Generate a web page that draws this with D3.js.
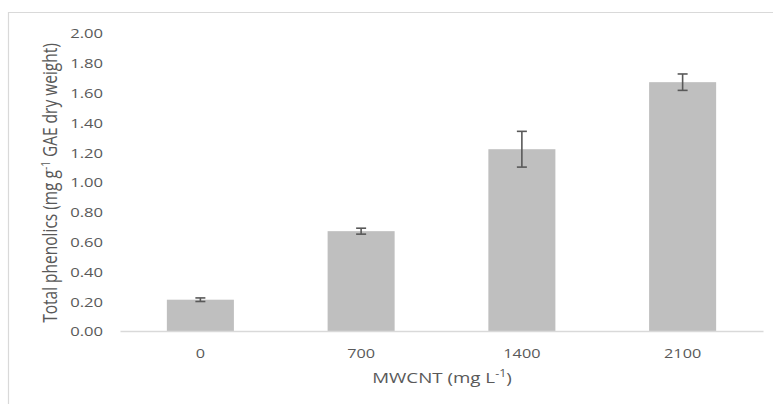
<!DOCTYPE html>
<html><head><meta charset="utf-8">
<script src="https://cdn.jsdelivr.net/npm/d3@7"></script>
<style>body{margin:0;background:#fff;} svg{display:block;}</style>
</head><body>
<script>
const categories = ["0", "700", "1400", "2100"];
const values = [0.21, 0.67, 1.22, 1.67];
const errors = [0.012, 0.02, 0.12, 0.055];
const yTicks = [0, 0.2, 0.4, 0.6, 0.8, 1.0, 1.2, 1.4, 1.6, 1.8, 2.0];

const W = 773, H = 404;
const SX = 1.25; // horizontal stretch of the reference's text
const svg = d3.select("body").append("svg").attr("width", W).attr("height", H);
const font = "'Open Sans', 'Noto Sans', sans-serif";
const txt = "#595959";

// frame
svg.append("path").attr("d", `M8.5,${H} V12.5 H${W}`).attr("fill", "none").attr("stroke", "#d9d9d9").attr("stroke-width", 1.2);

const x = d3.scaleBand().domain(categories).range([120, 763]).paddingInner(0.583).paddingOuter(0.2915);
const y = d3.scaleLinear().domain([0, 2]).range([331, 33]);

// bars
svg.selectAll("rect.bar").data(values).enter().append("rect").attr("class", "bar")
  .attr("x", (d, i) => x(categories[i])).attr("width", x.bandwidth())
  .attr("y", d => y(d)).attr("height", d => y(0) - y(d)).attr("fill", "#bfbfbf");

// x axis
const xa = svg.append("g").attr("transform", `translate(0,${y(0)})`).call(d3.axisBottom(x).tickSize(0).tickPadding(0));
xa.select(".domain").attr("stroke", "#d9d9d9").attr("stroke-width", 1.5);
xa.selectAll(".tick text").attr("y", 0).attr("dy", null)
  .attr("transform", `translate(0,27) scale(${SX},1)`)
  .attr("fill", txt).style("font-family", font).style("font-size", "13px");

// y axis
const ya = svg.append("g").attr("transform", `translate(103,0)`)
  .call(d3.axisLeft(y).tickValues(yTicks).tickSize(0).tickPadding(0).tickFormat(d3.format(".2f")));
ya.select(".domain").remove();
ya.selectAll(".tick text").attr("x", 0).attr("dy", null).attr("y", 0)
  .attr("transform", `translate(0,4.8) scale(${SX},1)`)
  .attr("fill", txt).style("font-family", font).style("font-size", "13.3px");

// error bars
const eg = svg.append("g").attr("stroke", "#595959").attr("stroke-width", 1.6).attr("fill", "none");
values.forEach((v, i) => {
  const cx = x(categories[i]) + x.bandwidth() / 2;
  const t = y(v + errors[i]), b = y(v - errors[i]);
  eg.append("line").attr("x1", cx).attr("x2", cx).attr("y1", t).attr("y2", b);
  eg.append("line").attr("x1", cx - 5).attr("x2", cx + 5).attr("y1", t).attr("y2", t);
  eg.append("line").attr("x1", cx - 5).attr("x2", cx + 5).attr("y1", b).attr("y2", b);
});

// x title
const xt = svg.append("text").attr("transform", `translate(442,383) scale(${SX},1)`).attr("text-anchor", "middle")
  .attr("fill", txt).style("font-family", font).style("font-size", "15px");
xt.append("tspan").text("MWCNT (mg L");
xt.append("tspan").attr("dy", -6).style("font-size", "10px").text("-1");
xt.append("tspan").attr("dy", 6).text(")");

// y title
const yt = svg.append("text").attr("transform", `translate(57,183) scale(${SX},1) rotate(-90)`).attr("text-anchor", "middle")
  .attr("fill", txt).style("font-family", font).style("font-size", "15.5px");
yt.append("tspan").text("Total phenolics (mg g");
yt.append("tspan").attr("dy", -6).style("font-size", "10px").text("-1");
yt.append("tspan").attr("dy", 6).text(" GAE dry weight)");
</script>
</body></html>
